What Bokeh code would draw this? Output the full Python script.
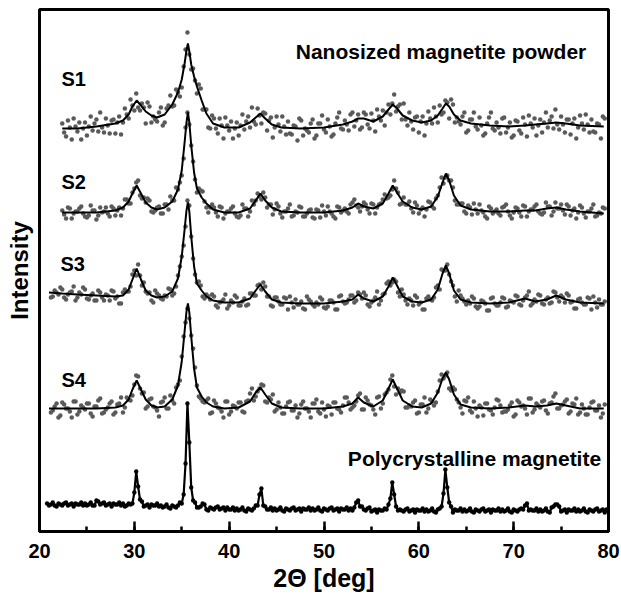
import numpy as np
from bokeh.plotting import figure
from bokeh.models import Range1d, SingleIntervalTicker, FixedTicker, Label
from bokeh.embed import file_html
from bokeh.resources import INLINE

FONT = "Liberation Sans"

# ---------------- data (2theta in deg, intensity in arbitrary offset units) ----------------
fit_2theta = [21.0, 22.4, 24.0, 26.0, 28.0, 28.8, 29.4, 29.8, 30.25, 30.7, 31.2, 31.8, 32.4, 33.2,
              34.0, 34.6, 35.0, 35.3, 35.5, 35.65, 35.8, 36.0, 36.3, 36.6, 37.1, 37.6, 38.3, 39.5,
              41.0, 42.2, 42.8, 43.3, 43.8, 44.5, 45.5, 47.5, 50.0, 52.0, 53.0, 53.6, 54.2, 55.2,
              56.2, 56.8, 57.25, 57.7, 58.3, 59.3, 60.3, 61.3, 62.0, 62.5, 62.85, 63.2, 63.7, 64.4,
              65.5, 67.5, 69.5, 71.2, 72.3, 73.5, 74.5, 75.5, 77.0, 79.5]

# fitted curves (S1, S2 start at 22.4 deg)
s1_fit = [403, 403, 405, 408, 411, 417, 425, 431, 426, 420, 416, 414, 417, 427, 439, 452, 468, 481, 488, 480,
          467, 455, 445, 431, 418, 408, 404, 404, 409, 414, 418, 413, 407, 404, 403, 404, 407, 410, 413, 413,
          410, 415, 422, 427, 423, 416, 411, 409, 411, 416, 423, 428, 425, 417, 411, 408, 406, 405, 406, 407,
          408, 409, 408, 406, 405]
s2_fit = [319, 319, 319, 321, 324, 330, 338, 346, 338, 329, 324, 322, 324, 330, 342, 361, 389, 409, 419, 409,
          386, 359, 343, 334, 328, 322, 319, 319, 323, 331, 338, 331, 324, 320, 319, 319, 321, 324, 328, 325,
          323, 328, 338, 346, 339, 330, 324, 322, 325, 335, 349, 358, 351, 336, 326, 322, 320, 320, 321, 321,
          323, 324, 322, 320, 318]
s3_fit = [239, 238, 237, 236, 235, 236, 242, 252, 263, 252, 241, 236, 234, 235, 240, 253, 275, 302, 321, 329,
          320, 295, 265, 248, 241, 235, 231, 229, 229, 233, 241, 247, 240, 232, 229, 228, 228, 230, 232, 237,
          233, 230, 235, 245, 254, 246, 235, 230, 229, 232, 242, 258, 266, 258, 241, 232, 229, 228, 229, 233,
          230, 232, 236, 232, 229, 228]
s4_fit = [123, 123, 123, 123, 124, 126, 132, 142, 151, 142, 132, 126, 124, 125, 132, 146, 170, 200, 220, 228,
          219, 195, 163, 144, 135, 129, 125, 123, 124, 130, 139, 144, 137, 128, 124, 123, 123, 125, 128, 134,
          129, 125, 131, 143, 152, 143, 131, 125, 124, 128, 139, 153, 159, 152, 137, 127, 124, 123, 124, 126,
          125, 126, 128, 126, 123, 123]

# measured points, nanosized samples
# S1, S2: 22.4 deg + 0.4 deg steps; *_mid: 22.6 deg + 0.4 deg steps
s1_obs = [408, 395, 404, 413, 400, 392, 409, 405, 401, 412, 419, 399, 406, 411, 398, 415, 409, 417, 432, 421,
          424, 428, 408, 425, 415, 410, 424, 409, 426, 425, 442, 435, 465, 499, 462, 451, 447, 422, 422, 403,
          413, 398, 406, 414, 401, 393, 409, 406, 402, 415, 424, 407, 416, 419, 401, 414, 404, 407, 415, 397,
          398, 406, 391, 411, 403, 399, 412, 396, 408, 402, 412, 395, 408, 419, 402, 407, 417, 405, 417, 404,
          417, 403, 411, 422, 411, 406, 427, 428, 420, 427, 428, 406, 410, 414, 399, 415, 408, 413, 424, 409,
          417, 431, 413, 427, 414, 407, 419, 401, 412, 405, 414, 396, 408, 419, 401, 404, 413, 399, 409, 396,
          410, 398, 407, 416, 404, 396, 412, 409, 404, 415, 422, 402, 407, 412, 397, 413, 404, 408, 417, 399,
          400, 408, 393, 413]
s1_obs_mid = [399, 411, 392, 405, 409, 403, 396, 415, 408, 400, 404, 413, 398, 412, 409, 397, 423, 413, 426, 438,
              421, 424, 429, 409, 412, 419, 406, 423, 436, 426, 439, 444, 482, 477, 463, 438, 443, 422, 404, 416,
              403, 413, 393, 406, 410, 403, 396, 417, 410, 404, 410, 423, 408, 418, 411, 394, 415, 400, 405, 410,
              397, 405, 413, 396, 401, 408, 393, 408, 416, 399, 405, 397, 414, 403, 411, 401, 419, 411, 402, 419,
              407, 418, 400, 415, 421, 419, 417, 437, 425, 412, 412, 419, 402, 415, 410, 396, 420, 408, 415, 426,
              419, 429, 432, 409, 410, 415, 399, 412, 419, 402, 406, 398, 414, 403, 409, 398, 414, 404, 394, 411,
              401, 414, 395, 408, 413, 406, 399, 419, 411, 403, 407, 415, 399, 412, 408, 393, 416, 402, 407, 412,
              399, 407, 415]
s2_obs = [321, 313, 323, 318, 320, 325, 315, 316, 321, 312, 324, 320, 318, 325, 316, 324, 323, 332, 328, 343,
          351, 333, 329, 331, 319, 324, 318, 327, 322, 331, 344, 349, 373, 419, 386, 352, 343, 340, 324, 324,
          324, 315, 324, 318, 320, 325, 315, 316, 323, 315, 331, 331, 335, 339, 324, 327, 322, 325, 314, 320,
          327, 316, 319, 324, 315, 321, 314, 322, 314, 320, 325, 318, 313, 324, 321, 320, 327, 332, 324, 325,
          327, 318, 327, 324, 328, 337, 334, 342, 343, 327, 334, 327, 323, 329, 318, 324, 322, 329, 323, 336,
          354, 354, 351, 344, 327, 328, 320, 326, 317, 322, 327, 319, 313, 323, 320, 318, 324, 327, 316, 319,
          323, 315, 325, 320, 322, 327, 318, 319, 325, 316, 329, 323, 321, 327, 316, 323, 319, 324, 314, 320,
          327, 316, 318, 323]
s2_obs_mid = [317, 324, 313, 320, 323, 318, 314, 326, 321, 316, 319, 324, 315, 323, 321, 316, 332, 328, 339, 349,
              336, 334, 333, 320, 321, 325, 318, 327, 335, 331, 342, 356, 404, 407, 370, 339, 341, 330, 319, 327,
              319, 325, 313, 320, 323, 318, 314, 327, 323, 320, 327, 338, 332, 334, 327, 317, 328, 318, 320, 323,
              315, 320, 325, 315, 318, 322, 313, 321, 326, 316, 320, 315, 325, 319, 323, 318, 329, 326, 320, 329,
              322, 328, 318, 327, 332, 333, 336, 351, 339, 328, 327, 330, 319, 326, 322, 315, 330, 325, 333, 344,
              348, 356, 351, 331, 327, 328, 318, 324, 328, 318, 321, 315, 325, 318, 322, 316, 325, 320, 313, 324,
              319, 326, 315, 322, 325, 320, 317, 329, 325, 320, 323, 327, 317, 325, 321, 313, 326, 318, 320, 323,
              315, 319, 324]
# S3, S4: 21.2 deg + 0.4 deg steps; *_mid: 21.4 deg + 0.4 deg steps
s3_obs = [234, 241, 237, 242, 232, 239, 245, 234, 237, 242, 232, 238, 231, 239, 231, 236, 241, 233, 228, 239,
          240, 245, 261, 267, 246, 240, 239, 229, 238, 233, 236, 243, 236, 245, 265, 286, 331, 295, 257, 250,
          235, 237, 232, 235, 224, 230, 237, 226, 229, 234, 226, 233, 227, 238, 236, 247, 249, 235, 226, 234,
          230, 227, 233, 235, 224, 227, 230, 222, 232, 227, 229, 234, 224, 225, 231, 222, 235, 230, 229, 236,
          229, 239, 233, 236, 225, 231, 240, 231, 238, 250, 249, 250, 235, 237, 227, 231, 236, 227, 222, 233,
          232, 234, 246, 262, 261, 257, 246, 230, 236, 230, 231, 235, 225, 225, 230, 221, 233, 228, 226, 234,
          224, 231, 229, 235, 226, 234, 240, 228, 230, 236, 227, 234, 229, 239, 230, 234, 238, 229, 223, 232,
          229, 227, 233, 235, 224, 227, 230]
s3_obs_mid = [235, 239, 244, 234, 237, 240, 231, 239, 244, 233, 236, 231, 241, 234, 237, 231, 240, 235, 228, 242,
              240, 257, 256, 256, 249, 238, 231, 241, 236, 232, 235, 242, 238, 256, 275, 305, 326, 273, 249, 246,
              233, 235, 237, 226, 229, 232, 223, 231, 236, 226, 230, 226, 238, 236, 246, 242, 245, 235, 225, 234,
              227, 234, 222, 229, 232, 227, 223, 235, 230, 225, 227, 232, 223, 231, 229, 222, 236, 228, 232, 236,
              231, 237, 239, 227, 229, 234, 227, 237, 248, 246, 252, 239, 242, 231, 233, 226, 234, 229, 222, 235,
              231, 244, 242, 261, 267, 250, 235, 241, 233, 227, 228, 233, 223, 231, 228, 221, 234, 226, 229, 233,
              225, 230, 236, 227, 231, 236, 226, 232, 237, 228, 232, 228, 240, 234, 236, 229, 236, 230, 223, 233,
              227, 234, 222, 229, 232, 227]
s4_obs = [119, 125, 114, 129, 123, 120, 130, 117, 126, 122, 128, 115, 125, 133, 119, 124, 130, 119, 128, 119,
          134, 131, 147, 155, 138, 123, 132, 125, 121, 129, 134, 123, 131, 144, 151, 195, 223, 196, 164, 135,
          130, 131, 118, 131, 124, 120, 130, 117, 126, 123, 129, 119, 131, 143, 135, 143, 146, 129, 132, 120,
          129, 118, 125, 130, 121, 114, 127, 123, 120, 128, 132, 118, 122, 126, 117, 129, 122, 126, 134, 122,
          126, 136, 122, 134, 127, 122, 134, 123, 137, 142, 156, 137, 139, 140, 124, 125, 131, 119, 127, 119,
          132, 126, 140, 157, 156, 143, 144, 132, 124, 131, 134, 119, 123, 126, 116, 128, 121, 124, 131, 119,
          120, 126, 115, 131, 125, 123, 133, 119, 128, 124, 131, 118, 129, 138, 123, 127, 132, 120, 127, 117,
          127, 117, 124, 130, 121, 114, 127]
s4_obs_mid = [121, 128, 116, 127, 123, 114, 130, 120, 124, 128, 118, 125, 131, 118, 122, 128, 117, 127, 134, 124,
              132, 136, 156, 143, 139, 125, 133, 124, 115, 130, 123, 136, 128, 147, 175, 209, 213, 183, 146, 133,
              129, 133, 119, 128, 123, 114, 130, 120, 125, 129, 120, 130, 138, 131, 140, 147, 130, 134, 137, 122,
              124, 118, 129, 121, 126, 118, 130, 123, 114, 128, 120, 129, 115, 125, 129, 123, 119, 134, 129, 124,
              130, 138, 122, 131, 126, 117, 135, 128, 139, 152, 145, 143, 141, 124, 126, 129, 118, 127, 134, 123,
              130, 129, 151, 153, 159, 141, 142, 129, 118, 130, 121, 130, 115, 124, 128, 122, 117, 132, 126, 120,
              122, 129, 117, 129, 126, 117, 133, 122, 126, 130, 121, 128, 135, 123, 126, 130, 118, 128, 133, 119,
              123, 117, 129, 121, 126, 118]

# polycrystalline magnetite, 0.2 deg step from 20.8 deg
poly_counts = [28, 26, 27, 29, 26, 25, 28, 27, 26, 28, 29, 26, 27, 28, 25, 28, 27, 27, 29, 26,
               28, 26, 27, 29, 26, 26, 31, 30, 27, 28, 29, 26, 27, 28, 25, 28, 27, 27, 29, 26,
               28, 25, 26, 28, 27, 28, 39, 60, 45, 32, 30, 25, 26, 27, 24, 27, 26, 26, 28, 25,
               26, 24, 25, 27, 24, 23, 26, 25, 24, 26, 29, 28, 37, 68, 128, 89, 44, 31, 29, 24,
               24, 25, 28, 27, 22, 21, 24, 23, 22, 24, 25, 22, 23, 24, 21, 24, 22, 22, 24, 21,
               23, 21, 22, 24, 21, 20, 23, 22, 21, 23, 26, 26, 37, 43, 26, 25, 22, 22, 24, 21,
               23, 21, 22, 24, 21, 20, 23, 22, 21, 23, 24, 21, 22, 23, 20, 23, 22, 22, 24, 21,
               23, 21, 22, 24, 21, 20, 23, 22, 21, 23, 24, 21, 22, 23, 20, 23, 22, 22, 24, 21,
               23, 21, 24, 29, 31, 25, 25, 22, 21, 23, 24, 20, 21, 22, 19, 22, 21, 21, 23, 22,
               27, 33, 49, 37, 25, 21, 22, 21, 20, 22, 23, 20, 21, 22, 19, 22, 21, 21, 23, 20,
               22, 20, 21, 23, 20, 19, 22, 23, 25, 38, 62, 44, 29, 25, 19, 22, 21, 21, 23, 20,
               22, 20, 21, 23, 20, 19, 22, 21, 20, 22, 23, 20, 21, 22, 19, 22, 21, 21, 23, 20,
               22, 20, 21, 23, 20, 19, 22, 21, 20, 22, 23, 22, 26, 28, 21, 22, 21, 21, 23, 20,
               22, 20, 21, 23, 20, 19, 24, 25, 27, 27, 25, 20, 21, 22, 19, 22, 21, 21, 23, 20,
               22, 20, 21, 23, 20, 19, 22, 21, 20, 22, 23, 20, 21, 22, 19, 22]

sample_labels = ["S1", "S2", "S3", "S4"]

# scan positions
def scan(start, n, step):
    return list(np.round(start + step * np.arange(n), 2))

obs_sets = [
    (scan(22.4, len(s1_obs), 0.4), s1_obs), (scan(22.6, len(s1_obs_mid), 0.4), s1_obs_mid),
    (scan(22.4, len(s2_obs), 0.4), s2_obs), (scan(22.6, len(s2_obs_mid), 0.4), s2_obs_mid),
    (scan(21.2, len(s3_obs), 0.4), s3_obs), (scan(21.4, len(s3_obs_mid), 0.4), s3_obs_mid),
    (scan(21.2, len(s4_obs), 0.4), s4_obs), (scan(21.4, len(s4_obs_mid), 0.4), s4_obs_mid),
]
poly_2theta = scan(20.8, len(poly_counts), 0.2)

# ---------------- figure ----------------
p = figure(width=621, height=600, output_backend="svg", toolbar_location=None,
           x_range=Range1d(20, 80), y_range=Range1d(0, 522),
           min_border_left=39, min_border_right=13, min_border_top=9, min_border_bottom=69)
p.background_fill_color = "white"
p.border_fill_color = "white"
p.grid.visible = False
p.outline_line_color = "black"
p.outline_line_width = 3

DOT = "#5a5a5a"
for xs, ys in obs_sets:
    p.scatter(xs, ys, size=4.5, fill_color=DOT, line_color=None, marker="circle")

for xs, ys in [(fit_2theta[1:], s1_fit), (fit_2theta[1:], s2_fit), (fit_2theta, s3_fit), (fit_2theta, s4_fit)]:
    p.line(xs, ys, line_color="black", line_width=2.0)

p.line(poly_2theta, poly_counts, line_color="black", line_width=2.2)
p.scatter(poly_2theta, poly_counts, size=4.4, fill_color="black", line_color=None, marker="circle")

# x axis
xa = p.xaxis[0]
xa.ticker = SingleIntervalTicker(interval=10, num_minor_ticks=2)
xa.axis_line_color = "black"
xa.axis_line_width = 3
xa.major_tick_in = 10
xa.major_tick_out = 0
xa.minor_tick_in = 5
xa.minor_tick_out = 0
xa.major_tick_line_width = 2.5
xa.minor_tick_line_width = 2.5
xa.major_tick_line_color = "black"
xa.minor_tick_line_color = "black"
xa.major_label_text_font = FONT
xa.major_label_text_font_style = "bold"
xa.major_label_text_font_size = "20px"
xa.major_label_text_color = "black"
xa.major_label_standoff = 12
xa.axis_label = "2Θ [deg]"
xa.axis_label_text_font = FONT
xa.axis_label_text_font_style = "bold"
xa.axis_label_text_font_size = "25px"
xa.axis_label_text_color = "black"
xa.axis_label_standoff = 3

# y axis (no ticks)
ya = p.yaxis[0]
ya.ticker = FixedTicker(ticks=[])
ya.axis_line_color = None
ya.major_tick_line_color = None
ya.minor_tick_line_color = None
ya.major_tick_out = 0
ya.major_label_standoff = 0
ya.axis_label = "Intensity"
ya.axis_label_text_font = FONT
ya.axis_label_text_font_style = "bold"
ya.axis_label_text_font_size = "24px"
ya.axis_label_text_color = "black"
ya.axis_label_standoff = 7

# annotations
label_pos = [(23.6, 453), (23.6, 350), (23.5, 268), (23.6, 152)]
for txt, (lx, ly) in zip(sample_labels, label_pos):
    p.add_layout(Label(x=lx, y=ly, text=txt, text_font=FONT, text_font_style="bold",
                       text_font_size="20px", text_align="center", text_baseline="middle",
                       text_color="black"))
p.add_layout(Label(x=62.34, y=480, text="Nanosized magnetite powder", text_font=FONT,
                   text_font_style="bold", text_font_size="21px", text_align="center",
                   text_baseline="alphabetic", text_color="black"))
p.add_layout(Label(x=65.87, y=73, text="Polycrystalline magnetite", text_font=FONT,
                   text_font_style="bold", text_font_size="21px", text_align="center",
                   text_baseline="alphabetic", text_color="black"))

open("out.html", "w").write(file_html(p, INLINE))
